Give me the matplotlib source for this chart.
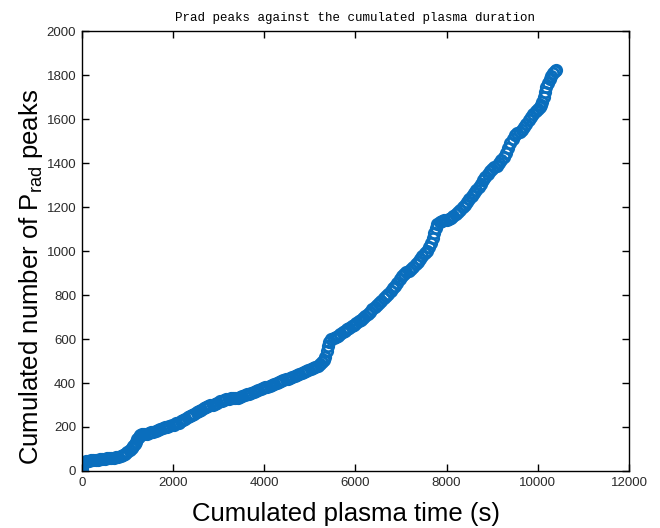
import matplotlib
matplotlib.use('Agg')
import matplotlib.pyplot as plt

# cumulated plasma time (s) and cumulated number of Prad peaks
plasma_time = [
    0, 0, 0, 5, 10, 20, 35, 60, 100, 150, 200, 250, 300, 350, 400, 450, 500, 550, 600, 650,
    700, 750, 800, 850, 900, 950, 1000, 1050, 1100, 1130, 1160, 1190, 1220, 1250, 1280, 1320,
    1370, 1420, 1470, 1520, 1570, 1620, 1670, 1720, 1770, 1820, 1870, 1920, 1970, 2020, 2070,
    2120, 2170, 2220, 2270, 2320, 2370, 2420, 2470, 2520, 2570, 2620, 2670, 2720, 2770, 2820,
    2870, 2920, 2970, 3020, 3070, 3120, 3170, 3220, 3270, 3320, 3370, 3420, 3470, 3520, 3570,
    3620, 3670, 3720, 3770, 3820, 3870, 3920, 3970, 4020, 4070, 4120, 4170, 4220, 4270, 4320,
    4370, 4420, 4470, 4520, 4570, 4620, 4670, 4720, 4770, 4820, 4870, 4920, 4970, 5020, 5070,
    5120, 5170, 5220, 5270, 5310, 5340, 5370, 5400, 5430, 5470, 5520, 5570, 5620, 5670, 5720,
    5770, 5820, 5870, 5920, 5970, 6020, 6070, 6120, 6170, 6220, 6270, 6320, 6370, 6420, 6470,
    6520, 6570, 6620, 6670, 6720, 6770, 6820, 6870, 6920, 6970, 7020, 7070, 7120, 7170, 7220,
    7270, 7320, 7370, 7420, 7470, 7520, 7570, 7620, 7660, 7700, 7730, 7760, 7800, 7850, 7900,
    7950, 8000, 8050, 8100, 8150, 8200, 8250, 8300, 8350, 8400, 8450, 8500, 8550, 8600, 8650,
    8700, 8750, 8800, 8850, 8900, 8950, 9000, 9050, 9100, 9150, 9200, 9250, 9300, 9350, 9400,
    9450, 9500, 9550, 9600, 9650, 9700, 9750, 9800, 9850, 9900, 9950, 10000, 10040, 10070,
    10100, 10130, 10160, 10190, 10220, 10260, 10300, 10340, 10370, 10390]
prad_peaks = [
    0, 5, 12, 18, 25, 32, 38, 42, 45, 47, 49, 50, 51, 52, 53, 55, 56, 57, 58, 60,
    61, 63, 65, 68, 72, 78, 86, 95, 104, 112, 122, 133, 145, 155, 162, 166,
    168, 170, 172, 175, 178, 182, 186, 190, 194, 198, 201, 204, 207, 211, 216,
    220, 226, 232, 238, 245, 251, 256, 261, 267, 273, 279, 285, 290, 294, 298,
    302, 306, 311, 316, 320, 324, 327, 329, 331, 332, 333, 334, 337, 340, 344,
    348, 352, 356, 360, 364, 368, 372, 376, 380, 384, 388, 392, 396, 400, 404,
    408, 412, 416, 420, 424, 428, 432, 436, 440, 444, 448, 453, 458, 463, 468,
    473, 479, 486, 495, 505, 520, 545, 568, 588, 598, 604, 610, 616, 622, 630,
    637, 644, 651, 658, 665, 672, 680, 688, 696, 705, 715, 725, 735, 745, 755,
    765, 775, 785, 795, 806, 818, 830, 842, 856, 872, 886, 896, 904, 911, 919,
    928, 939, 951, 963, 976, 989, 1002, 1018, 1038, 1060, 1082, 1104, 1122, 1134, 1138,
    1140, 1142, 1145, 1151, 1159, 1168, 1178, 1188, 1199, 1211, 1224, 1238, 1252, 1265, 1278,
    1292, 1307, 1322, 1337, 1351, 1363, 1372, 1380, 1389, 1400, 1413, 1428, 1447, 1468, 1490,
    1510, 1526, 1536, 1543, 1551, 1563, 1578, 1594, 1610, 1625, 1638, 1648, 1656, 1665,
    1680, 1700, 1722, 1745, 1765, 1782, 1797, 1810, 1818, 1822]

x_ticks = [0, 2000, 4000, 6000, 8000, 10000, 12000]
y_ticks = [0, 200, 400, 600, 800, 1000, 1200, 1400, 1600, 1800, 2000]

tick_font = ['Liberation Sans Narrow', 'Liberation Sans', 'DejaVu Sans']
label_font = ['Liberation Sans', 'DejaVu Sans']

fig = plt.figure(figsize=(6.6, 5.28), dpi=100)
ax = fig.add_axes([0.124, 0.108, 0.829, 0.833])

ax.plot(plasma_time, prad_peaks, 'o', mfc='none', mec='#0a6ebd', ms=7.5, mew=2.0, ls='none')

ax.set_xlim(0, 12000)
ax.set_ylim(0, 2000)
ax.set_xticks(x_ticks)
ax.set_yticks(y_ticks)
ax.tick_params(direction='in', top=True, right=True, length=5, width=1, labelsize=9.5,
               labelcolor='#2a2a2a', pad=4)
for lab in ax.get_xticklabels() + ax.get_yticklabels():
    lab.set_family(tick_font)
for s in ax.spines.values():
    s.set_linewidth(1.0)

ax.set_title('Prad peaks against the cumulated plasma duration', fontsize=9,
             family=['Liberation Mono', 'DejaVu Sans Mono'], pad=7)
ax.set_xlabel('Cumulated plasma time (s)', fontsize=18.5, family=label_font)
ax.set_ylabel('Cumulated number of P$_{\\mathregular{rad}}$ peaks', fontsize=18.5,
              family=label_font)
ax.xaxis.set_label_coords(0.482, -0.07)
ax.yaxis.set_label_coords(-0.067, 0.44)

fig.savefig('out.png', dpi=100)
